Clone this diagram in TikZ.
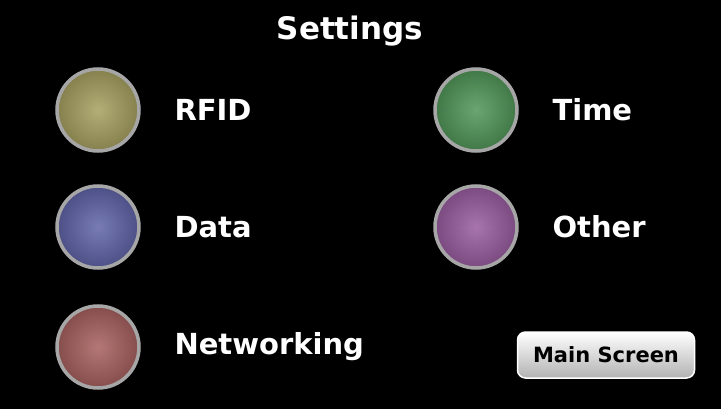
\documentclass[tikz,border=0pt]{standalone}
\usepackage{fontspec}
\setmainfont{DejaVu Sans}
\usepackage{xcolor}
\definecolor{RfidOlive}{RGB}{166, 160, 96}
\definecolor{DataBlue}{RGB}{96, 100, 168}
\definecolor{NetRed}{RGB}{166, 96, 94}
\definecolor{TimeGreen}{RGB}{80, 150, 88}
\definecolor{OtherPurple}{RGB}{152, 92, 160}
\tikzset{
  btn/.style={circle, minimum size=82pt, inner sep=0pt, draw=gray!70, line width=3.5pt,
    inner color=#1!85!white, outer color=#1!80!black},
  lbl/.style={text=white, font=\bfseries\fontsize{29}{31}\selectfont, anchor=west},
}
\begin{document}
\begin{tikzpicture}[x=1pt, y=-1pt]
            % Background
            \fill[black] (0,0) rectangle (721,409);
            \node[text=white, font=\bfseries\fontsize{31}{33}\selectfont] (title) at (350,31) {Settings};

            % Left column
            \node[btn=RfidOlive] (rfid) at (98,110) {};
            \node[lbl] (rfidlbl) at (171,110) {RFID};
            \node[btn=DataBlue] (data) at (98,227) {};
            \node[lbl] (datalbl) at (171,227) {Data};
            \node[btn=NetRed] (net) at (98,347) {};
            \node[lbl] (netlbl) at (171,347) {Networking};

            % Right column
            \node[btn=TimeGreen] (time) at (476,110) {};
            \node[lbl] (timelbl) at (549,110) {Time};
            \node[btn=OtherPurple] (other) at (476,227) {};
            \node[lbl] (otherlbl) at (549,227) {Other};

            % Main screen button
            \node[draw=white, line width=1.5pt, rounded corners=8pt, minimum width=177pt, minimum height=46pt,
              top color=white, bottom color=gray!60, font=\bfseries\fontsize{21}{23}\selectfont] (mainscr) at (606,355) {Main Screen};
        \end{tikzpicture}
\end{document}
